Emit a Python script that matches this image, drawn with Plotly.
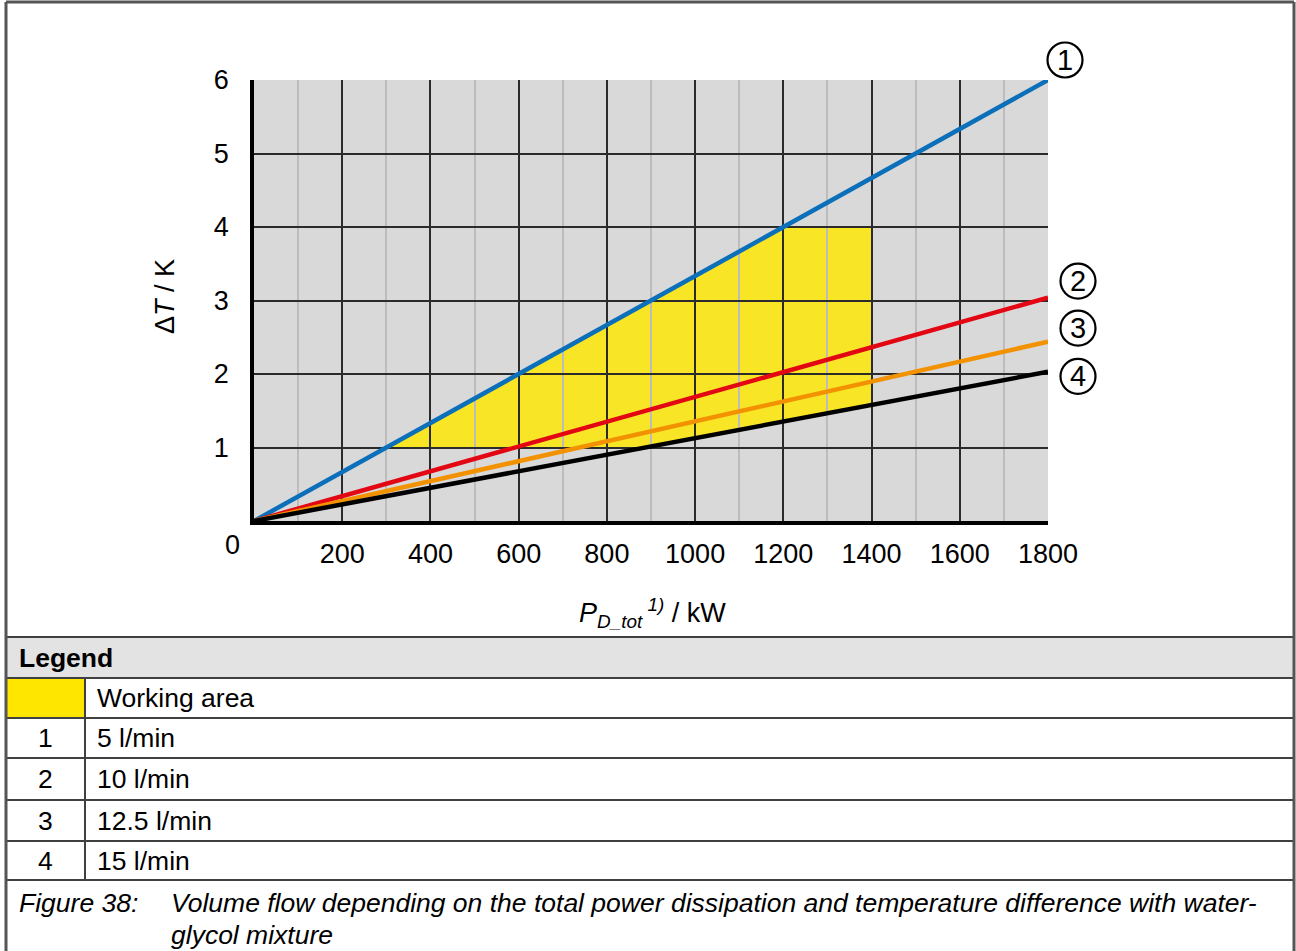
"""
Volume flow vs. total power dissipation and temperature difference
(water-glycol mixture), with legend table below the chart.
"""

import plotly.graph_objects as go

FIG_W, FIG_H = 1296, 951
FONT = "Liberation Sans, Arial, sans-serif"

# ---- data -------------------------------------------------------------
power_range = [0, 1800]                     # kW
delta_t_range = [0, 6]                      # K
delta_t_at_max = [6.0, 3.04, 2.44, 2.03]    # K at 1800 kW, curves 1..4
curve_ids = ["1", "2", "3", "4"]
flow_labels = ["5 l/min", "10 l/min", "12.5 l/min", "15 l/min"]
curve_colors = ["#0b6fba", "#e30613", "#f39200", "#000000"]

work_dt_min, work_dt_max = 1.0, 4.0         # K
work_p_max = 1400                           # kW

x_ticks = [200, 400, 600, 800, 1000, 1200, 1400, 1600, 1800]
x_minor = [100, 300, 500, 700, 900, 1100, 1300, 1500, 1700]
y_ticks = [1, 2, 3, 4, 5, 6]

caption_label = "Figure 38:"
caption_lines = [
    "Volume flow depending on the total power dissipation and temperature difference with water-",
    "glycol mixture",
]


def px(x):
    return x / FIG_W


def py(y):
    return 1 - y / FIG_H


X_DOMAIN = [px(254), px(1048)]
Y_DOMAIN = [py(521), py(80)]


def data_to_paper(x, y):
    """Map a data point to paper coordinates (for unclipped shapes)."""
    fx = X_DOMAIN[0] + (x - power_range[0]) / (power_range[1] - power_range[0]) * (X_DOMAIN[1] - X_DOMAIN[0])
    fy = Y_DOMAIN[0] + (y - delta_t_range[0]) / (delta_t_range[1] - delta_t_range[0]) * (Y_DOMAIN[1] - Y_DOMAIN[0])
    return fx, fy


def label(x, y, text, size=26.5, xanchor="center", **kw):
    return dict(x=x, y=y, xref="paper", yref="paper", text=text,
                showarrow=False, xanchor=xanchor, yanchor="middle",
                font=dict(size=size, color="black", family=FONT), **kw)


fig = go.Figure()

# ---- curves -------------------------------------------------------------
for cid, end, color in zip(curve_ids, delta_t_at_max, curve_colors):
    fig.add_trace(
        go.Scatter(
            x=power_range,
            y=[0, end],
            mode="lines",
            line=dict(color=color, width=4.5),
            name=cid,
            showlegend=False,
            hoverinfo="skip",
        )
    )

# ---- working area (between curve 1 and curve 4) -------------------------
slope_hi = delta_t_at_max[0] / power_range[1]
slope_lo = delta_t_at_max[-1] / power_range[1]
area = [
    (work_dt_min / slope_hi, work_dt_min),
    (work_dt_max / slope_hi, work_dt_max),
    (work_p_max, work_dt_max),
    (work_p_max, work_p_max * slope_lo),
    (work_dt_min / slope_lo, work_dt_min),
]
path = "M " + " L ".join(f"{x},{y}" for x, y in area) + " Z"

shapes = [
    dict(type="path", path=path, xref="x", yref="y", layer="below",
         fillcolor="#f8e526", line=dict(width=0)),
]

# circled curve numbers at the line ends
label_offsets = [(17, 20), (30, 16.5), (30, 13.5), (30, -4.5)]
annotations = []
for cid, end, (dx, dy) in zip(curve_ids, delta_t_at_max, label_offsets):
    ax, ay = data_to_paper(power_range[1], end)
    shapes.append(dict(
        type="circle", xref="paper", yref="paper",
        xsizemode="pixel", ysizemode="pixel",
        xanchor=ax, yanchor=ay,
        x0=dx - 17.5, x1=dx + 17.5, y0=dy - 17.5, y1=dy + 17.5,
        line=dict(color="black", width=2.2), fillcolor="rgba(0,0,0,0)",
    ))
    annotations.append(label(ax, ay, cid, size=29, xshift=dx, yshift=dy))

# axis titles and the corner "0"
annotations += [
    label(px(165), py(297), "Δ<i>T</i> / K", size=27, textangle=-90),
    label(px(652), py(613), "<i>P<sub>D_tot</sub><sup> 1)</sup></i> / kW", size=27),
    label(px(232), py(545), "0", size=27),
]

# ---- legend table -------------------------------------------------------
line_col = "#404040"
left, right, divider = 6, 1294, 85
rows = [637, 678, 718, 758, 800, 841, 880]

shapes.append(dict(type="rect", xref="paper", yref="paper",
                   x0=px(left), x1=px(right), y0=py(rows[1]), y1=py(rows[0]),
                   fillcolor="#e3e3e3", line=dict(width=0), layer="below"))
shapes.append(dict(type="rect", xref="paper", yref="paper",
                   x0=px(left), x1=px(divider), y0=py(rows[2]), y1=py(rows[1]),
                   fillcolor="#ffe600", line=dict(width=0), layer="below"))
for r in rows:
    shapes.append(dict(type="line", xref="paper", yref="paper",
                       x0=px(left), x1=px(right), y0=py(r), y1=py(r),
                       line=dict(color=line_col, width=2)))
shapes.append(dict(type="line", xref="paper", yref="paper",
                   x0=px(divider), x1=px(divider), y0=py(rows[1]), y1=py(rows[-1]),
                   line=dict(color=line_col, width=2)))
# outer frame
for x0, y0, x1, y1 in [(left, 2, right, 2), (left, 2, left, FIG_H),
                       (right, 2, right, FIG_H)]:
    shapes.append(dict(type="line", xref="paper", yref="paper",
                       x0=px(x0), x1=px(x1), y0=py(y0), y1=py(y1),
                       line=dict(color="#555555", width=3)))

annotations.append(label(px(17), py((rows[0] + rows[1]) / 2), "<b>Legend</b>",
                         xanchor="left"))
annotations.append(label(px(95), py((rows[1] + rows[2]) / 2), "Working area",
                         xanchor="left"))
for i, (cid, lab) in enumerate(zip(curve_ids, flow_labels)):
    yc = py((rows[i + 2] + rows[i + 3]) / 2)
    annotations.append(label(px(45), yc, cid))
    annotations.append(label(px(95), yc, lab, xanchor="left"))

annotations.append(label(px(17), py(903), f"<i>{caption_label}</i>",
                         xanchor="left"))
for i, line in enumerate(caption_lines):
    annotations.append(label(px(169), py(903 + 32 * i), f"<i>{line}</i>",
                             xanchor="left"))

# ---- layout -------------------------------------------------------------
fig.update_layout(
    width=FIG_W,
    height=FIG_H,
    margin=dict(l=0, r=0, t=0, b=0, autoexpand=False),
    paper_bgcolor="white",
    plot_bgcolor="#d9d9d9",
    font=dict(family=FONT, color="black"),
    showlegend=False,
    shapes=shapes,
    annotations=annotations,
    xaxis=dict(
        domain=X_DOMAIN,
        range=power_range,
        tickmode="array",
        tickvals=x_ticks,
        ticks="",
        showgrid=True,
        gridcolor="#2b2b2b",
        gridwidth=1.6,
        minor=dict(tickmode="array", tickvals=x_minor, showgrid=True,
                   gridcolor="#bcbcbc", gridwidth=1.6, ticks=""),
        zeroline=False,
        showline=True,
        linecolor="black",
        linewidth=3.5,
        tickfont=dict(size=27, family=FONT, color="black"),
        ticklabelstandoff=6,
        automargin=False,
        fixedrange=True,
    ),
    yaxis=dict(
        domain=Y_DOMAIN,
        range=delta_t_range,
        tickmode="array",
        tickvals=y_ticks,
        ticks="",
        showgrid=True,
        gridcolor="#2b2b2b",
        gridwidth=1.6,
        zeroline=False,
        showline=True,
        linecolor="black",
        linewidth=3.5,
        tickfont=dict(size=27, family=FONT, color="black"),
        ticklabelstandoff=16,
        automargin=False,
        fixedrange=True,
    ),
)

fig.write_html(
    "out.html",
    config={"displayModeBar": False},
    post_script="document.body.style.margin='0';document.body.style.overflow='hidden';",
)
